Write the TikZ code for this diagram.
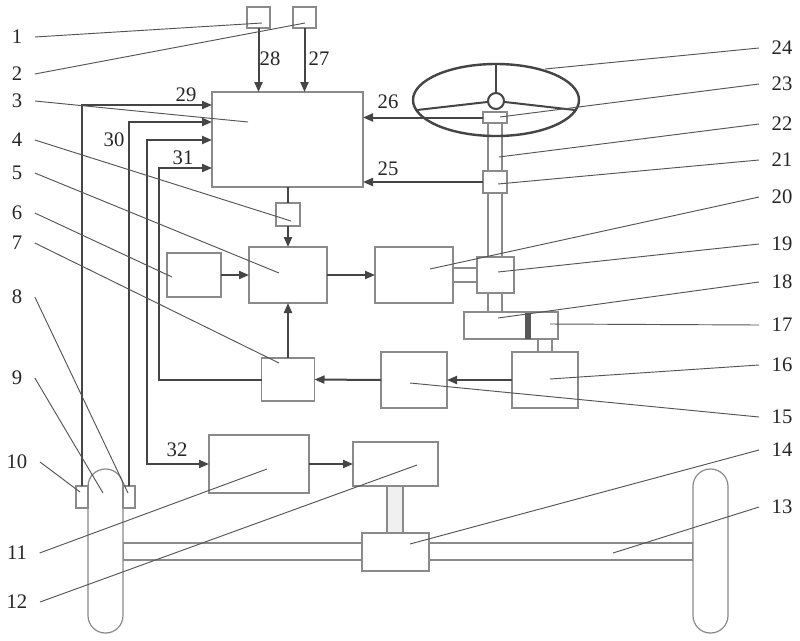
\documentclass[tikz,border=0pt]{standalone}
\usepackage{fontspec}
\setmainfont{Liberation Serif}
\usetikzlibrary{arrows.meta}

\definecolor{boxgray}{HTML}{8A8A8A}
\definecolor{sigdark}{HTML}{454545}
\definecolor{leadgray}{HTML}{555555}

\tikzset{
  blk/.style={draw=boxgray, fill=white, line width=0.9pt, inner sep=0pt, outer sep=0pt},
  sz/.style 2 args={minimum width=#1*0.75pt, minimum height=#2*0.75pt},
  wire/.style={draw=sigdark, line width=1.5pt},
  sig/.style={wire, -{Triangle[length=7.5pt,width=6pt]}},
  sigboth/.style={wire, {Triangle[length=7.5pt,width=6pt]}-{Triangle[length=7.5pt,width=6pt]}},
  lead/.style={draw=leadgray, line width=0.7pt},
  num/.style={font=\fontsize{15.5}{17}\selectfont, inner sep=0pt, outer sep=9.5pt, text=black!85},
  tag/.style={font=\fontsize{15.5}{17}\selectfont, inner sep=0pt, text=black!85},
}

\begin{document}
\begin{tikzpicture}[x=0.75pt, y=-0.75pt]
  \fill[white] (0,0) rectangle (800,640);
  \useasboundingbox (0,0) rectangle (800,640);

  % Shafts (drawn first, boxes sit on top)
  \node[blk, sz={14}{200}] (column) at (495,212) {};
  \node[blk, sz={24}{14}] (link20) at (465,275) {};
  \node[blk, sz={14}{13}] (link16) at (545,345.5) {};
  \node[blk, sz={570}{17}] (axle) at (408,551.5) {};
  \node[blk, fill=black!6, sz={16}{47}] (rod) at (395,509.5) {};

  % Sensors on top
  \node[blk, sz={23}{21}] (s1) at (258.5,17.5) {};
  \node[blk, sz={23}{21}] (s2) at (304.5,17.5) {};

  % Controller and blocks
  \node[blk, sz={151}{95}] (ecu) at (287.5,139.5) {};
  \node[blk, sz={24}{23}] (s4) at (288,214.5) {};
  \node[blk, sz={78}{56}] (b5) at (288,275) {};
  \node[blk, sz={54}{44}] (b6) at (194,275) {};
  \node[blk, sz={78}{56}] (b20) at (414,275) {};
  \node[blk, sz={37}{36}] (b19) at (495.5,275) {};
  \node[blk, sz={94}{27}] (b18) at (511,325.5) {};
  \fill[sigdark!90] (525,312.5) rectangle (531,338.5);
  \node[blk, sz={66}{56}] (b16) at (545,380) {};
  \node[blk, sz={66}{56}] (b15) at (414,380) {};
  \node[blk, sz={53}{43}] (b7) at (288,379.5) {};
  \node[blk, sz={100}{58}] (b11) at (259,464) {};
  \node[blk, sz={85}{44}] (b12) at (395.5,464) {};
  \node[blk, sz={67}{38}] (b14) at (395.5,552) {};
  \node[blk, sz={24}{22}] (b21) at (495,182) {};
  \node[blk, sz={24}{11}] (b23) at (495,117.5) {};

  % Wheels and wheel sensors
  \node[blk, sz={35}{164}, rounded corners=13pt] (wl) at (105.5,551) {};
  \node[blk, sz={35}{164}, rounded corners=13pt] (wr) at (710.5,551) {};
  \node[blk, sz={12}{22}] (s10) at (82,497) {};
  \node[blk, sz={12}{22}] (s8) at (129,497) {};

  % Steering wheel
  \coordinate (wc) at (496,100);
  \coordinate (sp1) at (496,64);
  \coordinate (sp2) at (417,110);
  \coordinate (sp3) at (575,110);
  \draw[sigdark, line width=1.8pt] (wc) ellipse [x radius=83, y radius=36];
  \node[circle, draw=sigdark, fill=white, line width=1.5pt, minimum size=12pt, inner sep=0pt, outer sep=0pt] (hub) at (496,101) {};
  \draw[sigdark, line width=1.5pt] (hub) -- (sp1);
  \draw[sigdark, line width=1.5pt] (hub) -- (sp2);
  \draw[sigdark, line width=1.5pt] (hub) -- (sp3);

  % Signal arrows
  \draw[sig] (s1.south) -- (s1.south |- ecu.north);
  \draw[sig] (s2.south) -- (s2.south |- ecu.north);
  \draw[sig] (b23.west) -- (b23.west -| ecu.east);
  \draw[sig] (b21.west) -- (b21.west -| ecu.east);
  \draw[wire] (s4.north |- ecu.south) -- (s4.north);
  \draw[sig] (s4.south) -- (b5.north);
  \draw[sig] (b6.east) -- (b5.west);
  \draw[sig] (b5.east) -- (b20.west);
  \draw[sig] (b16.west) -- (b15.east);
  \draw[sig] (b15.west) -- (b7.east);
  \draw[sig] (b7.north) -- (b5.south);
  \draw[sig] (b11.east) -- (b12.west);

  % Feedback lines into the controller
  \coordinate (in29) at (212,105);
  \coordinate (in30) at (212,122);
  \coordinate (in32) at (212,140);
  \coordinate (in31) at (212,168);
  \coordinate (kC) at (147,300);
  \coordinate (kD) at (159,300);
  \draw[sig] (s10.north) |- (in29);
  \draw[sig] (s8.north) |- (in30);
  \draw[sigboth] (in32) -| (kC) |- (b11.west);
  \draw[sig] (b7.west) -| (kD) |- (in31);

  % Signal labels
  \node[tag] (t28) at (270,59) {28};
  \node[tag] (t27) at (319,59) {27};
  \node[tag] (t26) at (388,102) {26};
  \node[tag] (t25) at (388,169) {25};
  \node[tag] (t29) at (186,95) {29};
  \node[tag] (t30) at (114,140) {30};
  \node[tag] (t31) at (183,158) {31};
  \node[tag] (t32) at (177,450) {32};

  % Part numbers, left
  \foreach \n/\lx/\ly/\px/\py in {1/17/37/262/23, 2/17/74/305/23, 3/17/101/248/122,
      4/17/140/291/221, 5/17/173/279/273, 6/17/213/172/277, 7/17/243/279/363,
      8/17/297/128/493, 9/17/378/103/493, 10/17/462/80/492, 11/17/553/267/469,
      12/17/602/417/465}{
    \node[num] (l\n) at (\lx,\ly) {\n};
    \coordinate (p\n) at (\px,\py);
    \draw[lead] (l\n.east) -- (p\n);
  }

  % Part numbers, right
  \foreach \n/\lx/\ly/\px/\py in {13/782/507/613/553, 14/782/450/410/544,
      15/782/417/410/383, 16/782/365/550/379, 17/782/325/550/324,
      18/782/282/498/318, 19/782/244/498/272, 20/782/197/430/269,
      21/782/160/498/184, 22/782/124/499/157, 23/782/84/500/117,
      24/782/48/545/69}{
    \node[num] (l\n) at (\lx,\ly) {\n};
    \coordinate (p\n) at (\px,\py);
    \draw[lead] (l\n.west) -- (p\n);
  }
\end{tikzpicture}
\end{document}
